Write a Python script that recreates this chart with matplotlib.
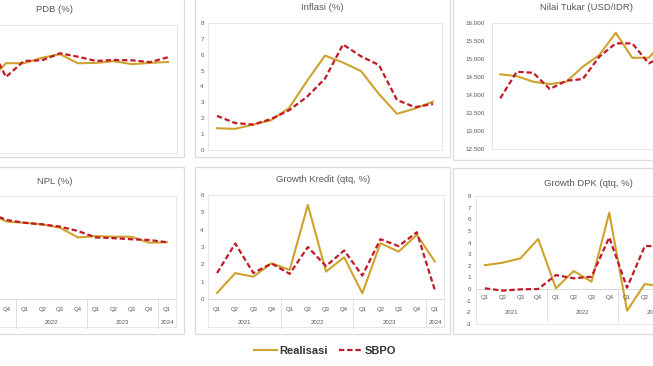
import matplotlib
matplotlib.use('Agg')
import matplotlib.pyplot as plt
from matplotlib.patches import Rectangle
from matplotlib.lines import Line2D
from matplotlib.ticker import FuncFormatter

plt.rcParams['font.family'] = ['Liberation Sans', 'DejaVu Sans']
plt.rcParams['axes.unicode_minus'] = False

# ---------------- data ----------------
quarters = ['Q1', 'Q2', 'Q3', 'Q4', 'Q1', 'Q2', 'Q3', 'Q4', 'Q1', 'Q2', 'Q3', 'Q4', 'Q1']
years = ['2021', '2022', '2023', '2024']
year_spans = [(0, 3), (4, 7), (8, 11), (12, 12)]

pdb_real = [-0.70, 7.07, 3.51, 5.02, 5.01, 5.44, 5.72, 5.01, 5.04, 5.17, 4.94, 5.04, 5.11]
pdb_sbpo = [-0.50, 7.00, 6.70, 3.94, 5.19, 5.24, 5.79, 5.52, 5.19, 5.27, 5.24, 5.10, 5.48]

inflasi_real = [1.37, 1.33, 1.60, 1.87, 2.64, 4.35, 5.95, 5.51, 4.97, 3.52, 2.28, 2.61, 3.05]
inflasi_sbpo = [2.15, 1.70, 1.60, 1.95, 2.50, 3.35, 4.50, 6.65, 5.90, 5.35, 3.15, 2.70, 2.90]

kurs_real = [14572, 14525, 14367, 14304, 14367, 14782, 15105, 15721, 15030, 15030, 15500, 15600, 15700]
kurs_sbpo = [13909, 14644, 14616, 14166, 14395, 14442, 15058, 15428, 15428, 14876, 15100, 15400, 15600]

npl_real = [3.90, 3.85, 3.74, 3.38, 3.33, 3.26, 3.11, 2.69, 2.75, 2.72, 2.72, 2.46, 2.48]
npl_sbpo = [3.95, 3.90, 3.75, 3.45, 3.33, 3.26, 3.16, 2.97, 2.69, 2.66, 2.61, 2.58, 2.48]

kredit_real = [0.35, 1.49, 1.29, 2.06, 1.68, 5.43, 1.58, 2.41, 0.33, 3.22, 2.73, 3.70, 2.16]
kredit_sbpo = [1.50, 3.20, 1.50, 2.05, 1.45, 3.00, 1.90, 2.80, 1.35, 3.45, 3.05, 3.85, 0.50]

dpk_real = [2.05, 2.27, 2.64, 4.31, 0.06, 1.55, 0.63, 6.58, -1.87, 0.43, 0.20, 1.50, -0.50]
dpk_sbpo = [0.06, -0.14, -0.03, 0.00, 1.20, 0.92, 1.06, 4.45, 0.12, 3.70, 3.70, 1.00, 0.50]

titles = ['PDB (%)', 'Inflasi (%)', 'Nilai Tukar (USD/IDR)',
          'NPL (%)', 'Growth Kredit (qtq, %)', 'Growth DPK (qtq, %)']
legend_labels = ['Realisasi', 'SBPO']

# ---------------- style ----------------
GOLD = '#CFA22E'
RED = '#C01A28'
GRID = '#d9d9d9'
TXT = '#595959'
W, H = 653, 366

fig = plt.figure(figsize=(6.53, 3.66), dpi=100)
fig.patch.set_facecolor('white')


def rect(l, t, r, b):
    return [l / W, 1 - b / H, (r - l) / W, (b - t) / H]


def frame(l, t, r, b):
    fig.patches.append(Rectangle((l / W, 1 - b / H), (r - l) / W, (b - t) / H,
                                 transform=fig.transFigure, fc='white',
                                 ec='#dcdcdc', lw=0.9, zorder=-5))


def panel(px, ylim, real, sbpo, yticks=None, fmt=None, pad=3):
    l, t, r, b = px
    ax = fig.add_axes(rect(l, t, r, b))
    ax.set_facecolor('none')
    x = list(range(len(real)))
    ax.plot(x, real, color=GOLD, lw=1.5, zorder=3)
    ax.plot(x, sbpo, color=RED, lw=1.6, dashes=(2.4, 1.3), zorder=4)
    ax.set_xlim(-0.5, len(real) - 0.5)
    ax.set_ylim(*ylim)
    ax.set_xticks([])
    if yticks is None:
        ax.set_yticks([])
    else:
        ax.set_yticks(yticks)
        if fmt is not None:
            ax.yaxis.set_major_formatter(FuncFormatter(fmt))
    ax.tick_params(axis='y', length=0, labelsize=4.5, labelcolor=TXT, pad=pad)
    for s in ax.spines.values():
        s.set_color('#e3e3e3')
        s.set_linewidth(0.6)
    return ax


def cat_axis(ax, px, yq, yy, y0, y1):
    l, t, r, b = px
    n = len(quarters)
    step = (r - l) / n
    xpix = lambda c: l + (c + 0.5) * step
    visible = lambda c: -4 <= xpix(c) <= W + 6
    tr = ax.get_xaxis_transform()
    f = lambda p: (b - p) / (b - t)
    ax.axhline(0, color=GRID, lw=0.7, zorder=1)
    for i, q in enumerate(quarters):
        if not visible(i):
            continue
        ax.text(i, f(yq), q, transform=tr, ha='center', va='center',
                fontsize=4.3, color=TXT)
    for yr, (s, e) in zip(years, year_spans):
        c = (s + e) / 2
        if not visible(c):
            continue
        ax.text(c, f(yy), yr, transform=tr, ha='center', va='center',
                fontsize=4.3, color=TXT)
    for s, e in year_spans[:-1]:
        ax.plot([e + 0.5, e + 0.5], [f(y0), f(y1)], transform=tr,
                color=GRID, lw=0.6, clip_on=False, zorder=1)


# frames
frame(-80, -5, 184, 157)
frame(195, -5, 450, 157)
frame(453, -5, 730, 160)
frame(-80, 167, 184, 334)
frame(195, 167, 450, 334)
frame(453, 168, 730, 334)

# top row
p1 = (-57, 25, 177, 153)
ax1 = panel(p1, (-2, 8), pdb_real, pdb_sbpo)

p2 = (208, 23, 442, 150)
ax2 = panel(p2, (0, 8), inflasi_real, inflasi_sbpo, yticks=range(0, 9), pad=3)

p3 = (492, 22.7, 706.5, 149.3)
ax3 = panel(p3, (12500, 16000), kurs_real, kurs_sbpo,
            yticks=range(12500, 16001, 500),
            fmt=lambda v, p: f'{int(v):,}'.replace(',', '.'), pad=5)

# bottom row
p4 = (-55.5, 196, 175.9, 327)
s4 = (299 - 196) / 4.5
ax4 = panel(p4, (-(327 - 299) / s4, 4.5), npl_real, npl_sbpo)
cat_axis(ax4, p4, 310, 323, 299, 328)

p5 = (208, 195, 444, 327)
s5 = (299 - 195) / 6.0
ax5 = panel(p5, (-(327 - 299) / s5, 6), kredit_real, kredit_sbpo,
            yticks=range(0, 7), pad=3)
cat_axis(ax5, p5, 310, 323, 299, 328)

p6 = (476, 196.2, 707, 323.8)
ax6 = panel(p6, (-3, 8), dpk_real, dpk_sbpo, yticks=range(-3, 9), pad=3.5)
cat_axis(ax6, p6, 297, 313, 289, 321)

# titles
title_pos = [(55, 9), (322, 8), (587, 8), (55, 181), (323, 179), (588, 183)]
for txt, (x, y) in zip(titles, title_pos):
    fig.text(x / W, 1 - y / H, txt, ha='center', va='center', fontsize=6.8,
             color=TXT)

# legend
handles = [Line2D([], [], color=GOLD, lw=1.5),
           Line2D([], [], color=RED, lw=1.6, dashes=(2.4, 1.3))]
fig.legend(handles, legend_labels, loc='center', ncol=2, frameon=False,
           bbox_to_anchor=(325 / W, 1 - 351 / H),
           prop={'size': 8, 'weight': 'bold'}, labelcolor='#333333',
           handlelength=2.1, handletextpad=0.2, columnspacing=1.0)

fig.savefig('out.png', dpi=100, facecolor='white')
